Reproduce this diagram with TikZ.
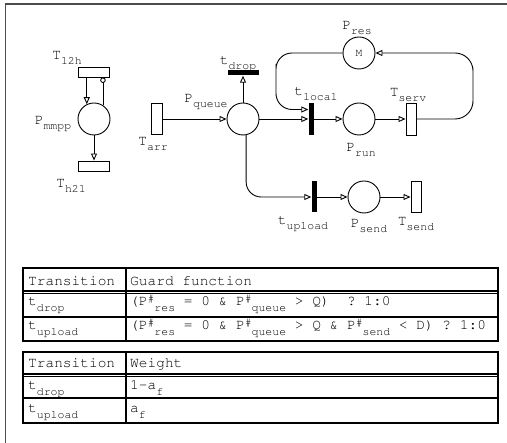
\documentclass[tikz,border=0pt]{standalone}
\usepackage[T1]{fontenc}
\usepackage{courier}
\renewcommand{\familydefault}{\ttdefault}
\usetikzlibrary{arrows.meta}

\newcommand{\subfont}{\fontsize{11.5}{12}\selectfont}
\newcommand{\lo}[1]{\raisebox{-5pt}{\subfont #1}}
\newcommand{\tlo}[1]{\raisebox{-6pt}{\subfont #1}}
\newcommand{\hi}[1]{\raisebox{3pt}{\subfont #1}}

\begin{document}
\begin{tikzpicture}
  [x=1pt,y=-1pt,
   every node/.style={font=\fontsize{14.5}{16}\selectfont},
   place/.style={circle,draw=black,line width=0.9pt,minimum size=32pt,inner sep=0pt},
   trans/.style={rectangle,draw=black,line width=0.9pt,fill=white,inner sep=0pt},
   imm/.style={rectangle,fill=black,inner sep=0pt},
   arc/.style={line width=0.9pt,-{Triangle[open,length=7pt,width=6pt]}},
   inhib/.style={line width=0.9pt,-{Circle[open,length=5.5pt]}},
   lbl/.style={inner sep=0pt},
   cell/.style={anchor=base west,inner sep=0pt}]
  \useasboundingbox (0,0) rectangle (507,443);
  \draw[black!70,line width=1.8pt] (5.5,450) |- (515,4);

  % places
  \node[place] (pmmpp) at (94,119) {};
  \node[place] (pqueue) at (243,119) {};
  \node[place] (pres) at (359,53) {\fontsize{11}{12}\selectfont M};
  \node[place] (prun) at (359,119) {};
  \node[place] (psend) at (364,197) {};

  % transitions
  \node[trans,minimum width=31pt,minimum height=10pt] (t12h) at (94,72) {};
  \node[trans,minimum width=31pt,minimum height=10pt] (th21) at (94,166) {};
  \node[trans,minimum width=11pt,minimum height=31pt] (tarr) at (157,119) {};
  \node[trans,minimum width=10pt,minimum height=32pt] (tserv) at (411,119) {};
  \node[trans,minimum width=10pt,minimum height=31pt] (tsend) at (416,197) {};
  \node[imm,minimum width=31pt,minimum height=5pt] (tdrop) at (243,73) {};
  \node[imm,minimum width=5pt,minimum height=32pt] (tlocal) at (311,119) {};
  \node[imm,minimum width=5pt,minimum height=31pt] (tupload) at (314,197) {};

  \coordinate (loopR) at (473,86);
  \coordinate (loopL) at (276,80);

  % arcs
  \foreach \from/\to in {pmmpp/th21, tarr/pqueue, pqueue/tdrop, pqueue/tlocal,
                         tlocal/prun, prun/tserv, tupload/psend, psend/tsend}
    \draw[arc] (\from) -- (\to);
  \draw[arc] (t12h.south -| pmmpp.116) -- (pmmpp.116);
  \draw[inhib] (pmmpp.57) -- (pmmpp.57 |- t12h.south);
  \draw[arc,rounded corners=18pt] (tserv.east) -| (loopR) |- (pres.east);
  \draw[arc,rounded corners=16pt] (pres.west) -| (loopL) |- ([yshift=9.5pt]tlocal.west);
  \draw[arc,rounded corners=15pt] (pqueue.-79) |- (tupload.west);

  % labels
  \node[lbl] (lt12h) at (67,58) {T\lo{12h}};
  \node[lbl] (lth21) at (71,186) {T\lo{h21}};
  \node[lbl] (lpmmpp) at (53,124) {P\lo{mmpp}};
  \node[lbl] (ltarr) at (153,144) {T\lo{arr}};
  \node[lbl] (lpqueue) at (206,102) {P\lo{queue}};
  \node[lbl] (ltdrop) at (238,64) {t\lo{drop}};
  \node[lbl] (lpres) at (357,28) {P\lo{res}};
  \node[lbl] (ltlocal) at (316,94) {t\lo{local}};
  \node[lbl] (ltserv) at (408,95) {T\lo{serv}};
  \node[lbl] (lprun) at (361,150) {P\lo{run}};
  \node[lbl] (ltupload) at (303,224) {t\lo{upload}};
  \node[lbl] (lpsend) at (369,226) {P\lo{send}};
  \node[lbl] (ltsend) at (416,224) {T\lo{send}};

  % guard table
  \draw[line width=1.1pt] (23,268) rectangle (498,341);
  \draw[line width=1.1pt] (23,291) -- (498,291) (23,293.5) -- (498,293.5)
                          (23,317) -- (498,317) (126,268) -- (126,341);
  \node[cell] (g11) at (28,286) {Transition};
  \node[cell] (g12) at (130,286) {Guard function};
  \node[cell] (g21) at (28,306) {t\tlo{drop}};
  \node[cell] (g22) at (130,306) {(P\hi{\#}\tlo{res} = 0 \& P\hi{\#}\tlo{queue} > Q)~~? 1:0};
  \node[cell] (g31) at (28,330) {t\tlo{upload}};
  \node[cell] (g32) at (130,330) {(P\hi{\#}\tlo{res} = 0 \& P\hi{\#}\tlo{queue} > Q \& P\hi{\#}\tlo{send} < D) ? 1:0};

  % weight table
  \draw[line width=1.1pt] (23,352) rectangle (498,423);
  \draw[line width=1.1pt] (23,374) -- (498,374) (23,376.5) -- (498,376.5)
                          (23,398) -- (498,398) (126,352) -- (126,423);
  \node[cell] (w11) at (28,368) {Transition};
  \node[cell] (w12) at (130,368) {Weight};
  \node[cell] (w21) at (28,390) {t\tlo{drop}};
  \node[cell] (w22) at (130,390) {1-a\tlo{f}};
  \node[cell] (w31) at (28,413) {t\tlo{upload}};
  \node[cell] (w32) at (130,413) {a\tlo{f}};
\end{tikzpicture}
\end{document}
